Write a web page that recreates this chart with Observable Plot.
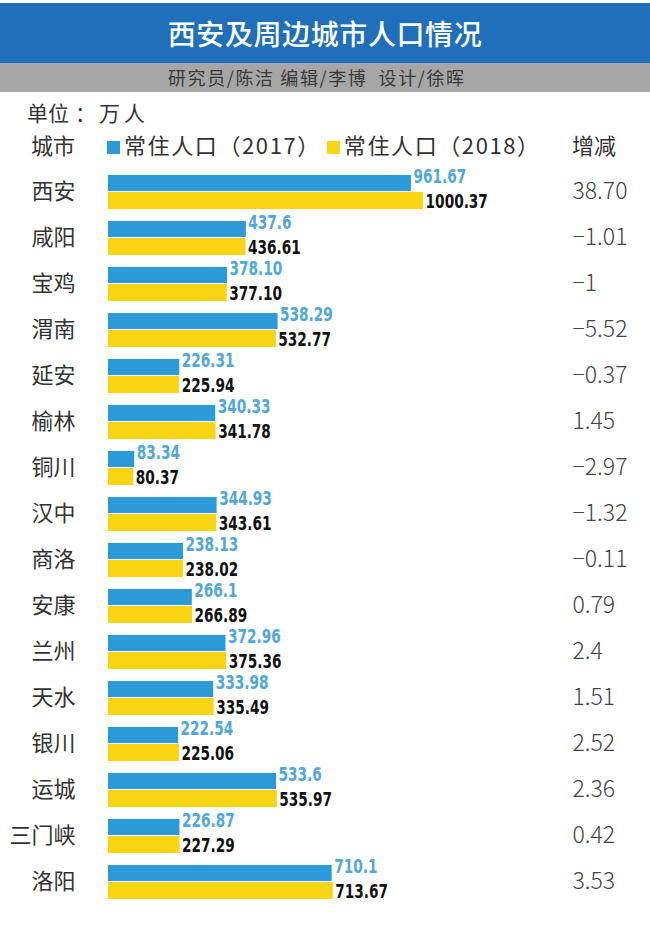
<!DOCTYPE html>
<html>
<head>
<meta charset="utf-8">
<script src="https://cdn.jsdelivr.net/npm/d3@7"></script>
<script src="https://cdn.jsdelivr.net/npm/@observablehq/plot@0.6"></script>
<style>
  html, body { margin: 0; padding: 0; background: #fff; }
  body { width: 650px; height: 930px; position: relative; overflow: hidden;
         font-family: "Noto Sans CJK SC", "Noto Sans", sans-serif; }
  .abs { position: absolute; white-space: nowrap; }
  #titlebar { left: 0; top: 3px; width: 650px; height: 60px; background: #1f6fbb; }
  #title { left: 0; top: 3px; width: 650px; height: 60px; line-height: 60px; text-align: center;
           color: #fff; font-size: 28px; font-weight: 500; letter-spacing: 0.6px; }
  #subbar { left: 0; top: 63px; width: 650px; height: 29px; background: #a6a6a6; }
  #sub { left: 168px; top: 63px; height: 29px; line-height: 29px; color: #3a3a3a; font-size: 18px;
         letter-spacing: 1.6px; white-space: pre; }
  #unit { left: 27px; top: 98px; font-size: 21px; color: #333; line-height: 28px; }
  #legend { left: 31px; top: 129px; font-size: 22px; color: #333; line-height: 30px; }
  .sw { display: inline-block; width: 13px; height: 13px; vertical-align: 0px; }
  .ser { letter-spacing: 1.6px; }
  #chart { left: 0; top: 160px; }
</style>
</head>
<body>
<div class="abs" id="titlebar"></div>
<div class="abs" id="title"></div>
<div class="abs" id="subbar"></div>
<div class="abs" id="sub"></div>
<div class="abs" id="unit"></div>
<div class="abs" id="legend"></div>
<div class="abs" id="chart"></div>
<script>
const titleText = "西安及周边城市人口情况";
const subtitleText = "研究员/陈洁 编辑/李博  设计/徐晖";
const unitLabel = "单位";
const unitValue = "万人";
const cityHeader = "城市";
const seriesNames = ["常住人口（2017）", "常住人口（2018）"];
const changeHeader = "增减";
const seriesColors = ["#2b9ad9", "#f9d511"];

const cities = ["西安", "咸阳", "宝鸡", "渭南", "延安", "榆林", "铜川", "汉中", "商洛", "安康", "兰州", "天水", "银川", "运城", "三门峡", "洛阳"];
const pop2017 = ["961.67", "437.6", "378.10", "538.29", "226.31", "340.33", "83.34", "344.93", "238.13", "266.1", "372.96", "333.98", "222.54", "533.6", "226.87", "710.1"];
const pop2018 = ["1000.37", "436.61", "377.10", "532.77", "225.94", "341.78", "80.37", "343.61", "238.02", "266.89", "375.36", "335.49", "225.06", "535.97", "227.29", "713.67"];
const change = ["38.70", "−1.01", "−1", "−5.52", "−0.37", "1.45", "−2.97", "−1.32", "−0.11", "0.79", "2.4", "1.51", "2.52", "2.36", "0.42", "3.53"];

document.getElementById("title").textContent = titleText;
document.getElementById("sub").textContent = subtitleText;
document.getElementById("unit").innerHTML =
  `${unitLabel}<span style="margin:0 3px 0 6px">：</span><span style="letter-spacing:4px">${unitValue}</span>`;
document.getElementById("legend").innerHTML =
  `<span style="margin-right:32px">${cityHeader}</span>` +
  `<span class="sw" style="background:${seriesColors[0]}"></span><span class="ser" style="margin-left:4px">${seriesNames[0]}</span>` +
  `<span class="sw" style="background:${seriesColors[1]};margin-left:6px"></span><span class="ser" style="margin-left:4px">${seriesNames[1]}</span>` +
  `<span style="position:absolute;left:541px">${changeHeader}</span>`;

const data = cities.map((c, i) => ({
  city: c,
  v17: +pop2017[i], l17: pop2017[i],
  v18: +pop2018[i], l18: pop2018[i],
  chg: change[i]
}));

const numFont = {fontFamily: "'DejaVu Sans Condensed', 'DejaVu Sans', sans-serif", fontWeight: "bold", fontSize: 19};

const chart = Plot.plot({
  width: 650,
  height: 770,
  marginLeft: 108,
  marginRight: 227,
  marginTop: 9,
  marginBottom: 25,
  x: {domain: [0, 1000], axis: null},
  y: {type: "band", domain: cities, padding: 0, axis: null},
  marks: [
    Plot.barX(data, {x: "v17", y: "city", fill: seriesColors[0], insetTop: 6, insetBottom: 24}),
    Plot.barX(data, {x: "v18", y: "city", fill: seriesColors[1], insetTop: 23, insetBottom: 6}),
    Plot.text(data, {x: "v17", y: "city", text: "l17", textAnchor: "start", dx: 2, dy: -16, fill: "#4fa7da", ...numFont}),
    Plot.text(data, {x: "v18", y: "city", text: "l18", textAnchor: "start", dx: 2, dy: 9, fill: "#111", ...numFont}),
    Plot.text(data, {y: "city", text: "city", frameAnchor: "left", textAnchor: "end", dx: -33, dy: -1, fill: "#333", fontSize: 22, fontFamily: "'Noto Sans CJK SC', sans-serif"}),
    Plot.text(data, {y: "city", text: "chg", frameAnchor: "right", textAnchor: "start", dx: 149, dy: -1, fill: "#444", fontSize: 23, fontWeight: 300, fontFamily: "'Noto Sans CJK SC', 'Roboto', sans-serif"})
  ]
});
// condense the value labels (narrow bold numerals as in the reference)
const textGroups = chart.querySelectorAll('g[aria-label="text"]');
[textGroups[0], textGroups[1]].forEach(g => {
  g.querySelectorAll("text").forEach(t => {
    const tr = t.getAttribute("transform") || "";
    t.setAttribute("transform", tr + " scale(0.8,1)");
  });
});
document.getElementById("chart").appendChild(chart);
</script>
</body>
</html>
